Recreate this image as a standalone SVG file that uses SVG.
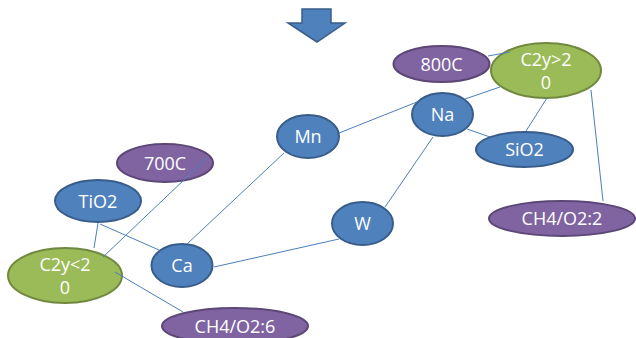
<svg xmlns="http://www.w3.org/2000/svg" width="636" height="338" viewBox="0 0 636 338">
<style>
.blue{fill:#4F81BD;stroke:#385D8A;stroke-width:2}
.purple{fill:#8064A2;stroke:#5C4776;stroke-width:2}
.green{fill:#9BBB59;stroke:#71893F;stroke-width:2}
text{font-family:"Open Sans","DejaVu Sans",sans-serif;font-size:18px;fill:#fff;text-anchor:middle}
.conn line{stroke:#4A7EBB;stroke-width:1}
</style>
<rect width="636" height="338" fill="#fff"/>
<path d="M302,9 H331 V23 H345 L317,42 L288,23 H302 Z" fill="#4F81BD" stroke="#385D8A" stroke-width="1.5"/>
<g id="n800C"><ellipse class="purple" cx="441.5" cy="64" rx="48" ry="18"/><text x="441.5" y="70.5">800C</text></g>
<g id="nC2ygt"><ellipse class="green" cx="546" cy="70.5" rx="55" ry="27.5"/><text x="546" y="66">C2y&gt;2</text><text x="546" y="89">0</text></g>
<g id="nNa"><ellipse class="blue" cx="442.5" cy="114.5" rx="30.5" ry="21.5"/><text x="442.5" y="121">Na</text></g>
<g id="nSiO2"><ellipse class="blue" cx="524.5" cy="149.5" rx="48.5" ry="17.5"/><text x="524.5" y="156">SiO2</text></g>
<g id="nCH4O2_2"><ellipse class="purple" cx="562" cy="218.5" rx="73" ry="17.5"/><text x="562" y="225">CH4/O2:2</text></g>
<g id="nMn"><ellipse class="blue" cx="308" cy="136.5" rx="31" ry="21.5"/><text x="308" y="143">Mn</text></g>
<g id="nW"><ellipse class="blue" cx="362.5" cy="223.5" rx="30.5" ry="21.5"/><text x="362.5" y="230">W</text></g>
<g id="n700C"><ellipse class="purple" cx="165" cy="163" rx="48" ry="19"/><text x="165" y="169.5">700C</text></g>
<g id="nTiO2"><ellipse class="blue" cx="98" cy="201" rx="43" ry="21"/><text x="98" y="207.5">TiO2</text></g>
<g id="nC2ylt"><ellipse class="green" cx="65" cy="275.5" rx="57" ry="27.5"/><text x="65" y="271">C2y&lt;2</text><text x="65" y="294">0</text></g>
<g id="nCa"><ellipse class="blue" cx="182" cy="265.5" rx="30.5" ry="21.5"/><text x="182" y="272">Ca</text></g>
<g id="nCH4O2_6"><ellipse class="purple" cx="235" cy="326" rx="73" ry="18"/><text x="235" y="333">CH4/O2:6</text></g>
<g class="conn" id="connectors">
<line x1="339" y1="133" x2="417" y2="102"/>
<line x1="465" y1="99" x2="500" y2="87"/>
<line x1="488" y1="56" x2="510" y2="52"/>
<line x1="547" y1="98" x2="526" y2="131"/>
<line x1="467" y1="129" x2="490" y2="137"/>
<line x1="591" y1="90" x2="603" y2="201"/>
<line x1="433" y1="137" x2="385" y2="207"/>
<line x1="284" y1="153" x2="187" y2="244"/>
<line x1="339" y1="239" x2="214" y2="267"/>
<line x1="207" y1="158" x2="103" y2="257"/>
<line x1="98" y1="223" x2="94" y2="248"/>
<line x1="100" y1="224" x2="159" y2="250"/>
<line x1="115" y1="272" x2="183" y2="312"/>
</g>
</svg>
